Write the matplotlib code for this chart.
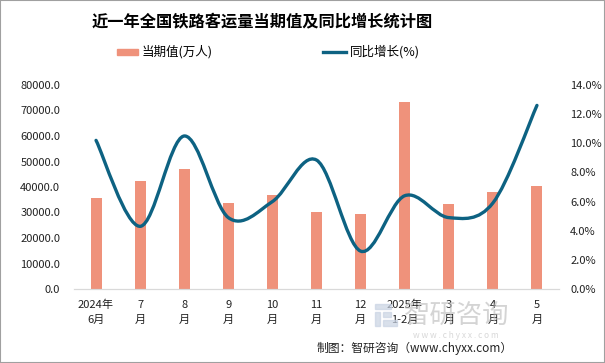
#!/usr/bin/env python3
# -*- coding: utf-8 -*-
"""近一年全国铁路客运量当期值及同比增长统计图."""

import matplotlib

matplotlib.use("Agg")

import matplotlib.pyplot as plt
import numpy as np
from matplotlib.patches import PathPatch, Rectangle
from matplotlib.path import Path
from matplotlib.ticker import FuncFormatter, MultipleLocator

plt.rcParams["font.family"] = ["Noto Sans CJK SC", "DejaVu Sans"]

MONTHS = ["2024年\n6月", "7\n月", "8\n月", "9\n月", "10\n月", "11\n月",
          "12\n月", "2025年\n1-2月", "3\n月", "4\n月", "5\n月"]
VOLUME = [35800, 42400, 47100, 33700, 36900, 30200, 29400, 73300, 33300, 38000, 40400]
GROWTH = [10.2, 4.3, 10.5, 4.9, 6.0, 8.85, 2.6, 6.4, 4.9, 5.9, 12.6]

BAR_COLOR = "#EF927B"
LINE_COLOR = "#0D6282"


def smooth_path(x, y, tension=1 / 6):
    """Catmull-Rom style cubic Bezier path through the points (like Excel smoothing)."""
    x = np.asarray(x, dtype=float)
    y = np.asarray(y, dtype=float)
    verts = [(x[0], y[0])]
    codes = [Path.MOVETO]
    n = len(x)
    for i in range(n - 1):
        p0 = (x[max(i - 1, 0)], y[max(i - 1, 0)])
        p1 = (x[i], y[i])
        p2 = (x[i + 1], y[i + 1])
        p3 = (x[min(i + 2, n - 1)], y[min(i + 2, n - 1)])
        c1 = (p1[0] + (p2[0] - p0[0]) * tension, p1[1] + (p2[1] - p0[1]) * tension)
        c2 = (p2[0] - (p3[0] - p1[0]) * tension, p2[1] - (p3[1] - p1[1]) * tension)
        verts += [c1, c2, p2]
        codes += [Path.CURVE4] * 3
    return Path(verts, codes)


def main() -> None:
    fig = plt.figure(figsize=(6.05, 3.63), dpi=100)
    fig.patches.append(Rectangle((0, 0), 1, 1, transform=fig.transFigure,
                                 fill=False, edgecolor="#A0A0A0", linewidth=1.5))
    ax = fig.add_axes([74 / 605, 1 - 289 / 363, 485 / 605, 204 / 363])
    ax2 = ax.twinx()

    xs = np.arange(len(MONTHS))
    ax.bar(xs, VOLUME, width=0.25, color=BAR_COLOR, zorder=2)
    ax.set_xlim(-0.5, len(MONTHS) - 0.5)
    ax.set_ylim(0, 80000)
    ax.yaxis.set_major_locator(MultipleLocator(10000))
    ax.yaxis.set_major_formatter(FuncFormatter(lambda v, _: "{:.1f}".format(v)))
    ax.set_xticks(xs)
    ax.set_xticklabels(MONTHS, fontsize=8.5, linespacing=1.6)

    ax2.add_patch(PathPatch(smooth_path(xs, GROWTH), facecolor="none",
                            edgecolor=LINE_COLOR, linewidth=2.4, zorder=3,
                            capstyle="round"))
    ax2.set_ylim(0, 14)
    ax2.yaxis.set_major_locator(MultipleLocator(2))
    ax2.yaxis.set_major_formatter(FuncFormatter(lambda v, _: "{:.1f}%".format(v)))

    for a in (ax, ax2):
        for side in ("top", "left", "right"):
            a.spines[side].set_visible(False)
        a.spines["bottom"].set_color("#D9D9D9")
        a.tick_params(length=0, labelsize=8, colors="#222222")
    ax.tick_params(axis="y", pad=10)
    ax2.tick_params(axis="y", pad=8)
    ax.tick_params(axis="x", pad=8)

    fig.text(262 / 605, 1 - 22 / 363, "近一年全国铁路客运量当期值及同比增长统计图",
             ha="center", va="center", fontsize=11.7, fontweight="bold")

    # legend
    fig.patches.append(Rectangle((117 / 605, 1 - 55 / 363), 21 / 605, 6 / 363,
                                 transform=fig.transFigure, color=BAR_COLOR))
    fig.text(142 / 605, 1 - 52 / 363, "当期值(万人)", ha="left", va="center", fontsize=9)
    fig.lines.append(plt.Line2D([323 / 605, 346 / 605], [1 - 52 / 363] * 2,
                                transform=fig.transFigure, color=LINE_COLOR, linewidth=2.4))
    fig.text(350 / 605, 1 - 52 / 363, "同比增长(%)", ha="left", va="center", fontsize=9)

    # watermark logo
    for dx, dy, w, h in ((375, 304, 16, 5), (375, 312, 5, 14), (383, 312, 8, 5), (383, 320, 14, 6)):
        fig.patches.append(Rectangle((dx / 605, 1 - (dy + h) / 363), w / 605, h / 363,
                                     transform=fig.transFigure, color="#C9D3E3", alpha=0.7))
    fig.text(404 / 605, 1 - 315 / 363, "智研咨询", ha="left", va="center",
             fontsize=19, color="#B8B8B8", alpha=0.6)
    fig.text(456 / 605, 1 - 335 / 363, "w w w . c h y x x . c o m", ha="center", va="center",
             fontsize=6, color="#C8C8C8", alpha=0.7)
    fig.text(513 / 605, 1 - 348 / 363, "制图：智研咨询（www.chyxx.com）",
             ha="right", va="center", fontsize=8.5, color="#222222")

    fig.savefig("out.png", dpi=100)
    plt.close(fig)


if __name__ == "__main__":
    main()
